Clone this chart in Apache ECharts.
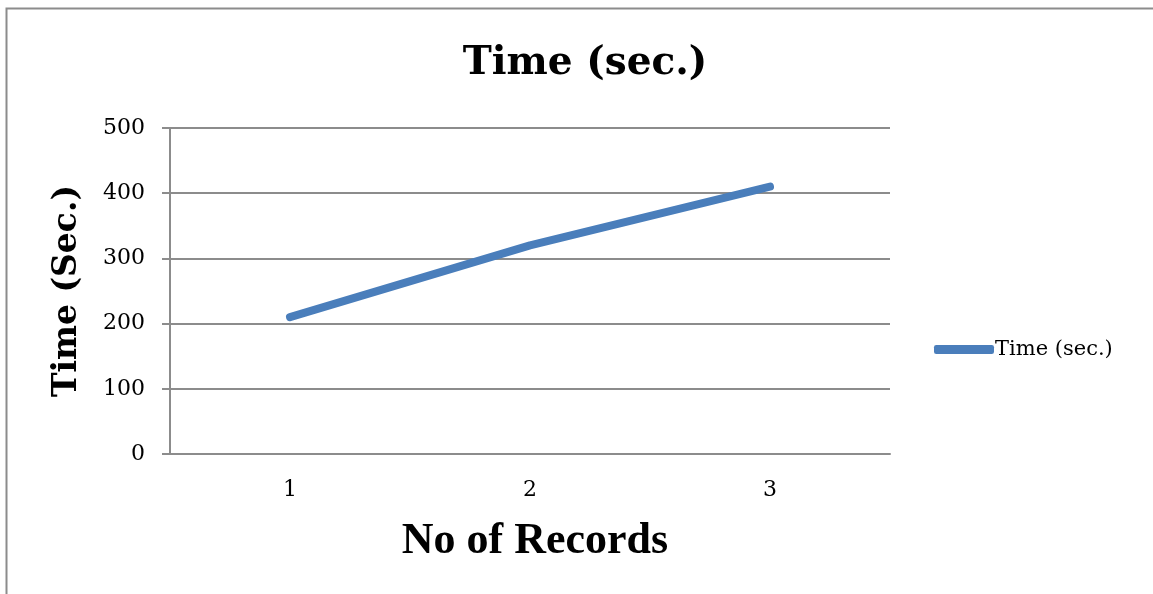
<!DOCTYPE html>
<html><head><meta charset="utf-8">
<script src="https://cdn.jsdelivr.net/npm/echarts@6/dist/echarts.min.js"></script>
<style>html,body{margin:0;padding:0;background:#fff;}#c{width:1153px;height:594px;}</style>
</head><body><div id="c"></div>
<script>
const categories = ['1', '2', '3'];
const timeValues = [210, 320, 410];
const seriesName = 'Time (sec.)';
const titleText = 'Time (sec.)';
const yAxisName = 'Time (Sec.)';
const xAxisName = 'No of Records';
const serif = '"DejaVu Serif", "Liberation Serif", serif';
const times = '"Liberation Serif", "DejaVu Serif", serif';
const chart = echarts.init(document.getElementById('c'));
chart.setOption({
  animation: false,
  graphic: [{
    type: 'polyline', shape: { points: [[6.5, 594], [6.5, 8.5], [1153, 8.5]] },
    style: { stroke: '#8c8c8c', lineWidth: 2, fill: null }
  }],
  title: { text: titleText, left: 580, textAlign: 'center', top: 39,
    textStyle: { fontFamily: serif, fontWeight: 'bold', fontSize: 39, color: '#000' } },
  legend: { left: 934, top: 339, padding: 0, itemWidth: 60, itemHeight: 9, itemGap: 0, icon: 'roundRect',
    data: [seriesName],
    textStyle: { fontFamily: serif, fontSize: 21, color: '#000', padding: [0, 0, 0, -4] } },
  grid: { left: 170, right: 263, top: 128, bottom: 140 },
  xAxis: {
    type: 'category', data: categories, boundaryGap: true,
    name: xAxisName, nameLocation: 'middle', nameGap: 66,
    nameTextStyle: { fontFamily: times, fontWeight: 'bold', fontSize: 44, color: '#000', padding: [0, 0, 0, 10] },
    axisLine: { lineStyle: { color: '#8c8c8c', width: 2 } },
    axisTick: { show: false },
    axisLabel: { fontFamily: serif, fontSize: 22, color: '#000', margin: 25 }
  },
  yAxis: {
    type: 'value', min: 0, max: 500, interval: 100,
    name: yAxisName, nameLocation: 'middle', nameGap: 86, nameRotate: 90,
    nameTextStyle: { fontFamily: serif, fontWeight: 'bold', fontSize: 33, color: '#000' },
    axisLine: { show: true, lineStyle: { color: '#8c8c8c', width: 2 } },
    axisTick: { show: true, length: 8, lineStyle: { color: '#8c8c8c', width: 2 } },
    axisLabel: { fontFamily: serif, fontSize: 22, color: '#000', margin: 25 },
    splitLine: { lineStyle: { color: '#8c8c8c', width: 2 } }
  },
  series: [{
    name: seriesName, type: 'line', data: timeValues,
    showSymbol: false, symbol: 'none',
    lineStyle: { color: '#4a7ebb', width: 8, cap: 'round', join: 'round' },
    itemStyle: { color: '#4a7ebb' }
  }]
});
</script></body></html>
